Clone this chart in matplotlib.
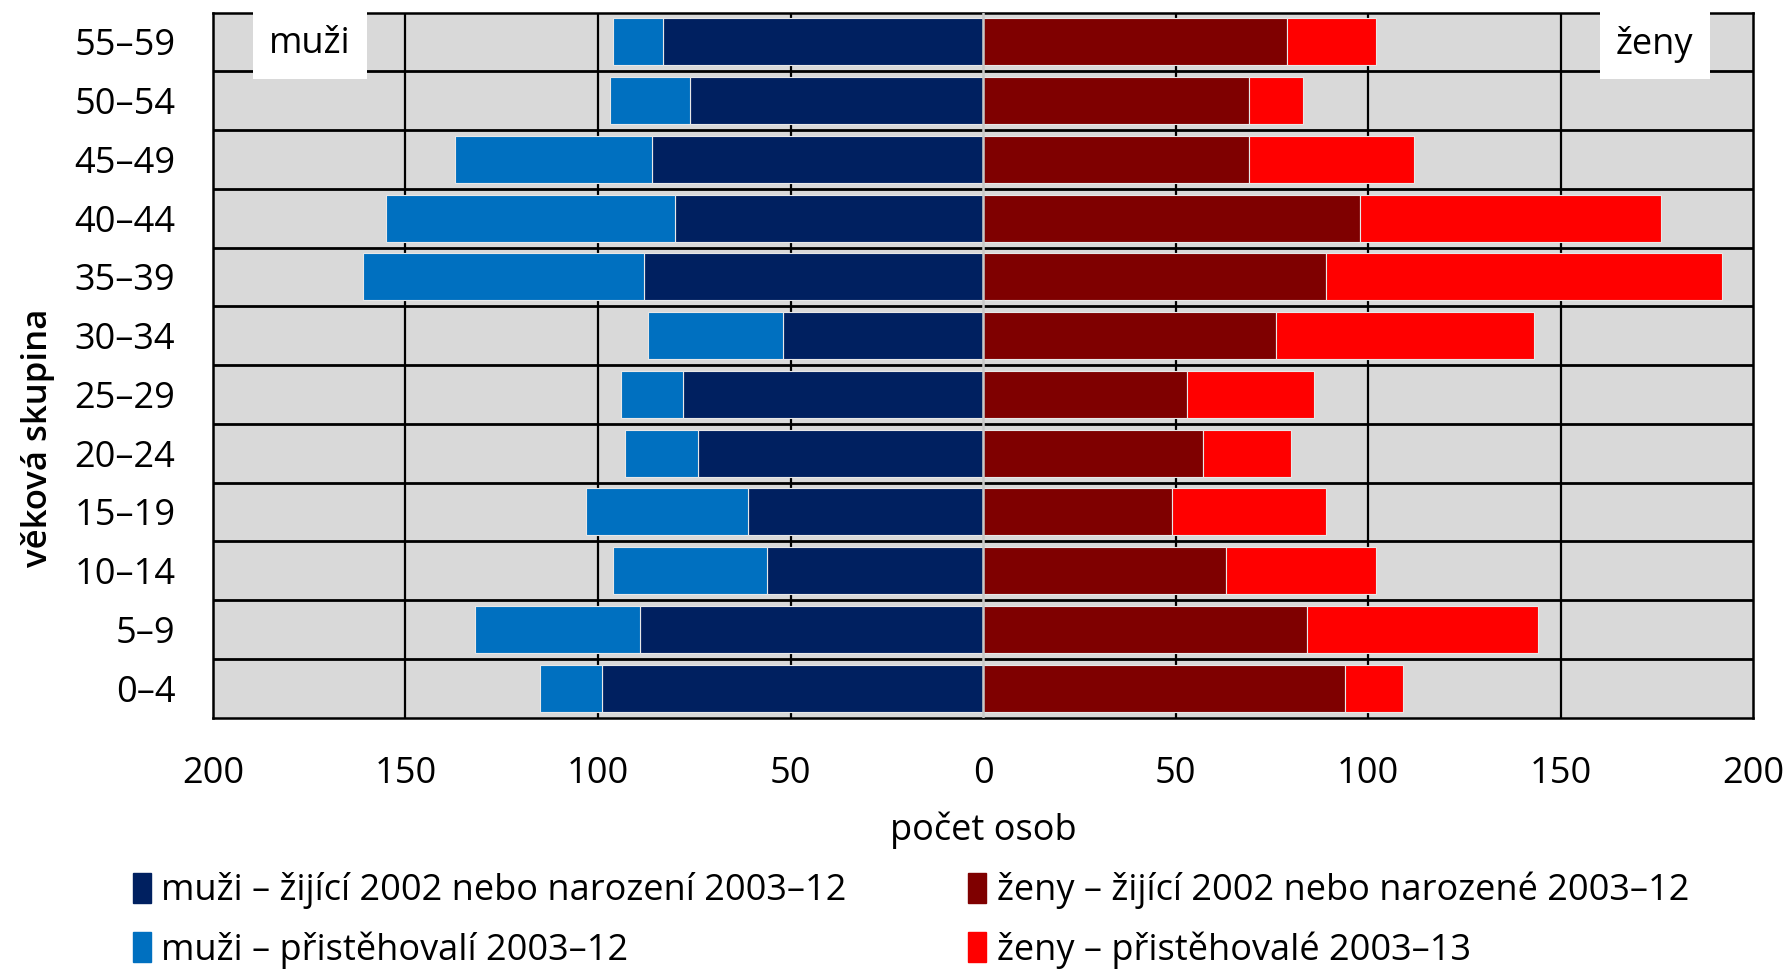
import matplotlib
matplotlib.use("Agg")
import matplotlib.pyplot as plt
from matplotlib.patches import Patch

plt.rcParams['font.family'] = ['Open Sans', 'DejaVu Sans']

age_groups = ["0–4", "5–9", "10–14", "15–19", "20–24", "25–29",
              "30–34", "35–39", "40–44", "45–49", "50–54", "55–59"]
men_resident = [99, 89, 56, 61, 74, 78, 52, 88, 80, 86, 76, 83]
men_immigrant = [16, 43, 40, 42, 19, 16, 35, 73, 75, 51, 21, 13]
women_resident = [94, 84, 63, 49, 57, 53, 76, 89, 98, 69, 69, 79]
women_immigrant = [15, 60, 39, 40, 23, 33, 67, 103, 78, 43, 14, 23]
xticks = [-200, -150, -100, -50, 0, 50, 100, 150, 200]
xtick_labels = ["200", "150", "100", "50", "0", "50", "100", "150", "200"]
legend_labels = ["muži – žijící 2002 nebo narození 2003–12",
                 "muži – přistěhovalí 2003–12",
                 "ženy – žijící 2002 nebo narozené 2003–12",
                 "ženy – přistěhovalé 2003–13"]

c_md, c_ml, c_wd, c_wl = "#002060", "#0070C0", "#7F0000", "#FF0000"

fig = plt.figure(figsize=(17.89, 9.71), dpi=100)
ax = fig.add_axes([0.119, 0.261, 0.861, 0.726])
ax.set_facecolor("#d9d9d9")

y = list(range(len(age_groups)))
h = 0.8
ec = "#e8e8e8"
ax.barh(y, [-v for v in men_resident], height=h, color=c_md, edgecolor=ec, linewidth=0.8, zorder=3)
ax.barh(y, [-v for v in men_immigrant], left=[-v for v in men_resident], height=h,
        color=c_ml, edgecolor=ec, linewidth=0.8, zorder=3)
ax.barh(y, women_resident, height=h, color=c_wd, edgecolor=ec, linewidth=0.8, zorder=3)
ax.barh(y, women_immigrant, left=women_resident, height=h, color=c_wl,
        edgecolor=ec, linewidth=0.8, zorder=3)

for xv in [-150, -100, -50, 50, 100, 150]:
    ax.axvline(xv, color="black", lw=1.6, zorder=1)
for yv in range(len(age_groups) - 1):
    ax.axhline(yv + 0.5, color="black", lw=2.0, zorder=1)
ax.axvline(0, color="#c8c8c8", lw=1.8, zorder=4)

ax.set_xlim(-200, 200)
ax.set_ylim(-0.5, len(age_groups) - 0.5)
ax.set_xticks(xticks)
ax.set_xticklabels(xtick_labels)
ax.set_yticks(y)
ax.set_yticklabels(age_groups)
ax.tick_params(axis="both", length=0, labelsize=26, colors="black")
ax.tick_params(axis="x", pad=28)
ax.tick_params(axis="y", pad=27)
for s in ax.spines.values():
    s.set_linewidth(1.8)
    s.set_color("black")

ax.set_xlabel("počet osob", fontsize=26, labelpad=14)
fig.text(0.021, 0.549, "věková skupina", rotation=90, fontsize=25,
         fontweight="semibold", ha="center", va="center")

ax.text(0.063, 0.955, "muži", transform=ax.transAxes, fontsize=26, ha="center", va="center",
        bbox=dict(boxstyle="square,pad=0.45", facecolor="white", edgecolor="none"), zorder=6)
ax.text(0.936, 0.955, "ženy", transform=ax.transAxes, fontsize=26, ha="center", va="center",
        bbox=dict(boxstyle="square,pad=0.45", facecolor="white", edgecolor="none"), zorder=6)

handles = [Patch(color=c_md), Patch(color=c_ml), Patch(color=c_wd), Patch(color=c_wl)]
fig.legend(handles, legend_labels, ncol=2, loc="upper left", bbox_to_anchor=(0.066, 0.117),
           frameon=False, fontsize=26, handlelength=0.5, handleheight=0.9, handletextpad=0.3,
           columnspacing=3.35, labelspacing=0.6, borderaxespad=0)

fig.savefig("out.png", dpi=100)
